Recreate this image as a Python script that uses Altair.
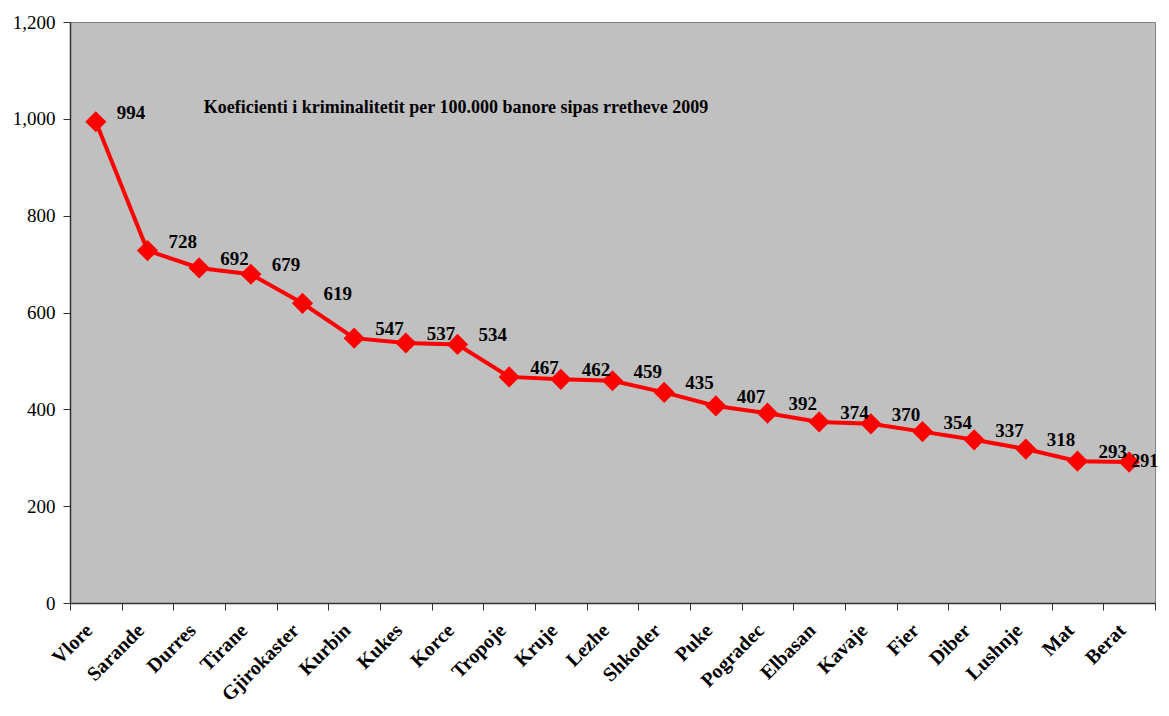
import altair as alt
import pandas as pd

districts = ["Vlore", "Sarande", "Durres", "Tirane", "Gjirokaster", "Kurbin", "Kukes",
             "Korce", "Tropoje", "Kruje", "Lezhe", "Shkoder", "Puke", "Pogradec",
             "Elbasan", "Kavaje", "Fier", "Diber", "Lushnje", "Mat", "Berat"]
values = [994, 728, 692, 679, 619, 547, 537, 534, 467, 462, 459, 435, 407, 392,
          374, 370, 354, 337, 318, 293, 291]
title_text = "Koeficienti i kriminalitetit per 100.000 banore sipas rretheve 2009"

df = pd.DataFrame({"district": districts, "value": values})

SERIF = "Liberation Serif"

x_enc = alt.X("district:N", sort=None, bandPosition=0.5,
              scale=alt.Scale(type="band", paddingInner=0, paddingOuter=0),
              axis=alt.Axis(title=None, labelAngle=-45, labelAlign="right",
                            labelBaseline="middle", labelFont=SERIF,
                            labelFontWeight="bold", labelFontSize=20,
                            labelColor="black", labelPadding=17, labelOffset=-7,
                            tickBand="extent", tickSize=7, tickColor="#333",
                            domainColor="#333", domainWidth=1.5))
y_enc = alt.Y("value:Q",
              scale=alt.Scale(domain=[0, 1200], nice=False),
              axis=alt.Axis(title=None, values=[0, 200, 400, 600, 800, 1000, 1200],
                            format=",d", grid=False, labelFont=SERIF,
                            labelFontSize=19, labelColor="black", labelPadding=8,
                            tickSize=7, tickColor="#333", domainColor="#333",
                            domainWidth=1.5))

base = alt.Chart(df).encode(x=x_enc, y=y_enc)

line = base.mark_line(color="#FF0000", strokeWidth=4)
points = base.mark_point(shape="diamond", filled=True, color="#FF0000",
                         size=450, opacity=1)
last_name = districts[-1]
labels = base.transform_filter(alt.datum.district != last_name).mark_text(
    align="left", baseline="middle", dx=21, dy=-9,
    font=SERIF, fontWeight="bold", fontSize=19, color="black"
).encode(text="value:Q")
last_label = base.transform_filter(alt.datum.district == last_name).mark_text(
    align="left", baseline="middle", dx=2, dy=0,
    font=SERIF, fontWeight="bold", fontSize=18, color="black"
).encode(text="value:Q")

title = alt.Chart(pd.DataFrame({"t": [title_text]})).mark_text(
    font=SERIF, fontWeight="bold", fontSize=18, color="black",
    align="center", baseline="middle"
).encode(x=alt.value(386), y=alt.value(86), text="t:N")

chart = alt.layer(line, points, labels, last_label, title).properties(
    width=1085, height=581,
    padding={"left": 62, "top": 14, "right": 6, "bottom": 104},
    autosize=alt.AutoSizeParams(type="none"),
    background="white",
).configure_view(fill="#C0C0C0", stroke="#808080", strokeWidth=1)

chart.save("out.html", embed_options={"renderer": "svg", "actions": False})
